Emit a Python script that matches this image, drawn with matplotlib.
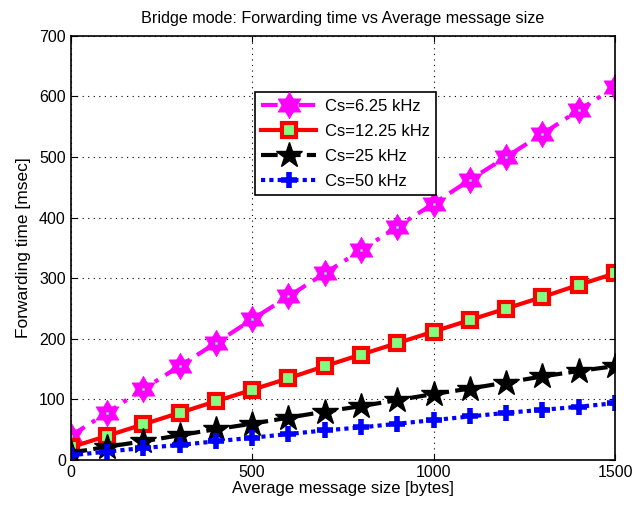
import matplotlib
import numpy as np
from matplotlib.path import Path

matplotlib.use("Agg")
import matplotlib.pyplot as plt

plt.rcParams["font.family"] = ["Liberation Sans", "DejaVu Sans"]

# data
msg_size = [0, 100, 200, 300, 400, 500, 600, 700, 800, 900, 1000, 1100, 1200, 1300, 1400, 1500]
cs_6_25 = [40, 78, 117, 155, 193, 232, 270, 308, 346, 385, 423, 462, 500, 538, 577, 615]
cs_12_25 = [21, 40, 59, 78, 97, 116, 135, 155, 174, 193, 212, 231, 250, 269, 289, 308]
cs_25 = [12, 22, 31, 41, 51, 60, 70, 80, 89, 99, 109, 118, 128, 138, 147, 155]
cs_50 = [8, 14, 20, 25, 31, 37, 43, 49, 54, 60, 66, 72, 78, 83, 88, 94]
labels = ["Cs=6.25 kHz", "Cs=12.25 kHz", "Cs=25 kHz", "Cs=50 kHz"]


# equilateral triangle; two of them make the MATLAB hexagram
def triangle(start_deg):
    ang = np.deg2rad(start_deg + np.array([0, 120, 240, 0]))
    verts = np.column_stack([np.cos(ang), np.sin(ang)])
    return Path(verts, [Path.MOVETO, Path.LINETO, Path.LINETO, Path.CLOSEPOLY])


fig = plt.figure(figsize=(6.42, 5.09), dpi=100)
ax = fig.add_axes([0.110, 0.096, 0.848, 0.834])

mag_line, = ax.plot(msg_size, cs_6_25, color="#ff00ff", linestyle=(0, (4, 2, 1, 2)), linewidth=3)
tri_up, = ax.plot(msg_size, cs_6_25, linestyle="none", marker=triangle(90), markersize=19,
                  markerfacecolor="#ff00ff", markeredgecolor="#ff00ff", markeredgewidth=0.5)
tri_dn, = ax.plot(msg_size, cs_6_25, linestyle="none", marker=triangle(270), markersize=19,
                  markerfacecolor="#ff00ff", markeredgecolor="#ff00ff", markeredgewidth=0.5)
ax.plot(msg_size, cs_6_25, linestyle="none", marker="s", markersize=2,
        markerfacecolor="#80ffc0", markeredgecolor="#80c0c0", markeredgewidth=0.5)
red_line, = ax.plot(msg_size, cs_12_25, color="red", linestyle="-", linewidth=3,
                    marker="s", markersize=10, markerfacecolor="#80ff80",
                    markeredgecolor="red", markeredgewidth=3)
blk_line, = ax.plot(msg_size, cs_25, color="black", linestyle=(0, (4, 1.5)), linewidth=3,
                    marker="*", markersize=19, markerfacecolor="black",
                    markeredgecolor="black")
blu_line, = ax.plot(msg_size, cs_50, color="blue", linestyle=(0, (1, 1)), linewidth=3,
                    marker="+", markersize=12, markeredgewidth=4)

ax.set_xlim(0, 1500)
ax.set_ylim(0, 700)
ax.set_xticks([0, 500, 1000, 1500])
ax.set_yticks(range(0, 701, 100))
ax.tick_params(direction="in", labelsize=11.5, length=4, top=True, right=True)
ax.grid(True, color="black", linestyle=(0, (1, 4)), linewidth=0.8)
for s in ax.spines.values():
    s.set_linewidth(1.2)

ax.set_xlabel("Average message size [bytes]", fontsize=12, labelpad=1)
ax.set_ylabel("Forwarding time [msec]", fontsize=12.5, labelpad=6)
ax.set_title("Bridge mode: Forwarding time vs Average message size", fontsize=11.6, pad=9)

leg = ax.legend([(mag_line, tri_up, tri_dn), red_line, blk_line, blu_line], labels,
                loc="upper left", bbox_to_anchor=(0.338, 0.867), borderaxespad=0,
                fontsize=12, fancybox=False, framealpha=1, edgecolor="black",
                handlelength=3.3, borderpad=0.4, labelspacing=0.6, handletextpad=0.5)
leg.get_frame().set_linewidth(1.2)

fig.savefig("out.png", dpi=100)
